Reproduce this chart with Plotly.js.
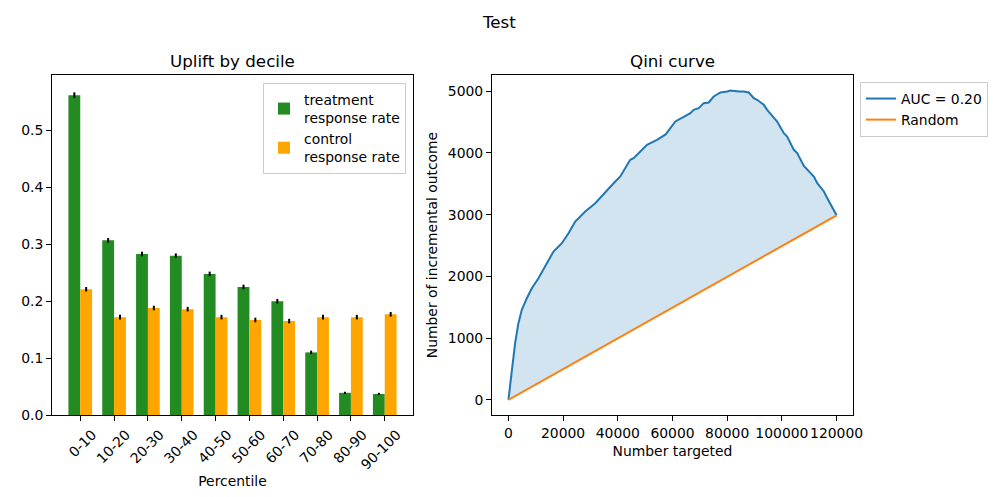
<!DOCTYPE html>
<html>
<head>
<meta charset="utf-8">
<script src="https://cdn.plot.ly/plotly-3.0.1.min.js"></script>
<style>html,body{margin:0;padding:0;background:#fff;}#chart{width:998px;height:497px;}</style>
</head>
<body>
<div id="chart"></div>
<script>
// ---- data ----
const deciles = ['0-10','10-20','20-30','30-40','40-50','50-60','60-70','70-80','80-90','90-100'];
const treatmentRate = [0.562, 0.307, 0.283, 0.280, 0.248, 0.225, 0.200, 0.110, 0.039, 0.037];
const treatmentErr  = [0.005, 0.004, 0.004, 0.004, 0.004, 0.004, 0.004, 0.003, 0.002, 0.002];
const controlRate   = [0.221, 0.172, 0.188, 0.186, 0.172, 0.167, 0.165, 0.172, 0.172, 0.177];
const controlErr    = [0.004, 0.004, 0.004, 0.004, 0.004, 0.004, 0.004, 0.004, 0.004, 0.004];

const qiniX = [0, 1245, 2450, 3660, 4900, 6740, 8570, 10990, 13440, 16480, 19560, 21970, 24430, 28090, 31750, 36040, 39070, 40900, 44560, 45780, 48220, 50680, 54320, 56180, 57500, 61050, 64080, 66540, 67740, 69580, 71400, 73240, 75070, 76900, 77520, 79980, 81180, 84230, 86060, 87900, 89720, 90950, 93380, 94610, 97040, 98270, 100710, 101930, 104370, 105590, 108030, 111690, 112940, 115350, 116600, 118400, 120000];
const qiniY = [0, 486, 918, 1242, 1458, 1647, 1809, 1971, 2160, 2403, 2538, 2700, 2889, 3050, 3186, 3402, 3537, 3618, 3888, 3915, 4023, 4131, 4212, 4266, 4300, 4509, 4590, 4644, 4698, 4725, 4806, 4817, 4914, 4957, 4979, 4995, 5011, 4995, 4995, 4979, 4887, 4860, 4779, 4698, 4563, 4509, 4320, 4266, 4050, 3996, 3790, 3618, 3510, 3375, 3267, 3132, 2990];
const randomX = [0, 120000];
const randomY = [0, 2990];

const W = 998, H = 497;
const FONT = 'DejaVu Sans, sans-serif';
const fs = 13.9;

const traces = [
  {type:'bar', x:deciles, y:treatmentRate, name:'treatment<br>response rate',
   marker:{color:'#228b22'}, error_y:{type:'data', array:treatmentErr, color:'#000', thickness:2, width:0},
   xaxis:'x', yaxis:'y', legend:'legend'},
  {type:'bar', x:deciles, y:controlRate, name:'control<br>response rate',
   marker:{color:'#ffa500'}, error_y:{type:'data', array:controlErr, color:'#000', thickness:2, width:0},
   xaxis:'x', yaxis:'y', legend:'legend'},
  {type:'scatter', mode:'lines', x:randomX, y:randomY, showlegend:false, hoverinfo:'skip',
   line:{color:'rgba(0,0,0,0)', width:0}, xaxis:'x2', yaxis:'y2'},
  {type:'scatter', mode:'lines', x:qiniX, y:qiniY, showlegend:false, fill:'tonexty',
   fillcolor:'rgba(31,119,180,0.2)', line:{width:0, color:'rgba(0,0,0,0)'}, xaxis:'x2', yaxis:'y2'},
  {type:'scatter', mode:'lines', x:qiniX, y:qiniY, name:'AUC = 0.20',
   line:{color:'#1f77b4', width:2}, xaxis:'x2', yaxis:'y2', legend:'legend2', legendrank:1},
  {type:'scatter', mode:'lines', x:randomX, y:randomY, name:'Random',
   line:{color:'#ff7f0e', width:2}, xaxis:'x2', yaxis:'y2', legend:'legend2', legendrank:2}
];

const axBase = {showgrid:false, zeroline:false, showline:true, linecolor:'#000', linewidth:1, mirror:true,
  ticks:'outside', ticklen:5, tickwidth:1, tickcolor:'#000', tickfont:{family:FONT, size:fs, color:'#000'}};

const layout = {
  width:W, height:H, margin:{l:0,r:0,t:0,b:0}, paper_bgcolor:'#fff', plot_bgcolor:'#fff',
  font:{family:FONT, size:fs, color:'#000'},
  barmode:'group', bargap:0.3, bargroupgap:0,
  xaxis:Object.assign({}, axBase, {domain:[52/W, 413/W], anchor:'y', type:'category', range:[-0.835, 9.835],
    tickangle:-45, ticklabelshift:12,
    title:{text:'Percentile', font:{family:FONT, size:fs}, standoff:4}}),
  yaxis:Object.assign({}, axBase, {domain:[(H-415)/H, (H-75)/H], anchor:'x', range:[0, 0.5975],
    tickvals:[0,0.1,0.2,0.3,0.4,0.5], tickformat:'.1f'}),
  xaxis2:Object.assign({}, axBase, {domain:[492/W, 853/W], anchor:'y2', range:[-6000, 126000],
    tickvals:[0,20000,40000,60000,80000,100000,120000], tickformat:'d', tickangle:0,
    title:{text:'Number targeted', font:{family:FONT, size:fs}, standoff:6}}),
  yaxis2:Object.assign({}, axBase, {domain:[(H-415)/H, (H-75)/H], anchor:'x2', range:[-245, 5262],
    tickvals:[0,1000,2000,3000,4000,5000], tickformat:'d',
    title:{text:'Number of incremental outcome', font:{family:FONT, size:fs}, standoff:6}}),
  legend:{x:406/W, xanchor:'right', y:(H-83)/H, yanchor:'top', bgcolor:'rgba(255,255,255,0.8)',
    bordercolor:'#cccccc', borderwidth:1, font:{family:FONT, size:fs}, tracegroupgap:4, traceorder:'normal'},
  legend2:{x:860/W, xanchor:'left', y:(H-82)/H, yanchor:'top', bgcolor:'rgba(255,255,255,0.8)',
    bordercolor:'#cccccc', borderwidth:1, font:{family:FONT, size:fs}, itemwidth:30, traceorder:'normal'},
  annotations:[
    {text:'Test', xref:'paper', yref:'paper', x:499/W, y:(H-22)/H, xanchor:'center', yanchor:'middle', showarrow:false, font:{family:FONT, size:16.7}},
    {text:'Uplift by decile', xref:'paper', yref:'paper', x:232.5/W, y:(H-61)/H, xanchor:'center', yanchor:'middle', showarrow:false, font:{family:FONT, size:16.7}},
    {text:'Qini curve', xref:'paper', yref:'paper', x:672.5/W, y:(H-61)/H, xanchor:'center', yanchor:'middle', showarrow:false, font:{family:FONT, size:16.7}}
  ],
  showlegend:true
};

Plotly.newPlot('chart', traces, layout, {displayModeBar:false, staticPlot:true});
</script>
</body>
</html>
